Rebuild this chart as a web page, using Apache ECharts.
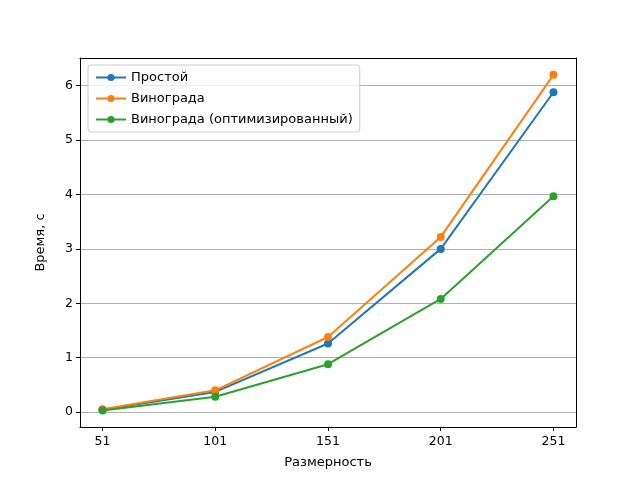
<!DOCTYPE html>
<html><head><meta charset="utf-8">
<script src="https://cdn.jsdelivr.net/npm/echarts@6/dist/echarts.min.js"></script>
<style>html,body{margin:0;padding:0;background:#fff}#c{width:640px;height:480px}</style>
</head><body><div id="c"></div>
<script>
var sizes = [51, 101, 151, 201, 251];
var simple = [0.04, 0.37, 1.26, 3.0, 5.88];
var winograd = [0.05, 0.40, 1.38, 3.22, 6.20];
var winogradOpt = [0.03, 0.28, 0.88, 2.08, 3.97];
var yTicks = [0, 1, 2, 3, 4, 5, 6];
var names = ['Простой', 'Винограда', 'Винограда (оптимизированный)'];
var colors = ['#1f77b4', '#ff7f0e', '#2ca02c'];
function pairs(v){ return sizes.map(function(x,i){return [x, v[i]];}); }
var font = 'DejaVu Sans';
var chart = echarts.init(document.getElementById('c'));
function ser(name, v, c){
  return {name:name, type:'line', data:pairs(v), symbol:'circle', symbolSize:8,
    lineStyle:{width:2, color:c}, itemStyle:{color:c}, z:3};
}
chart.setOption({
  animation:false,
  textStyle:{fontFamily:font},
  grid:{left:80, right:64, top:58, bottom:53},
  legend:{orient:'vertical', left:88, top:65, itemGap:8, itemWidth:30, itemHeight:9,
    data:names, borderColor:'#ccc', borderWidth:1, borderRadius:3, padding:[6,7,6,7],
    backgroundColor:'rgba(255,255,255,0.8)',
    textStyle:{fontSize:13, color:'#000', fontFamily:font}},
  xAxis:[{type:'value', min:41, max:261, name:'Размерность', nameLocation:'middle', nameGap:29,
    nameTextStyle:{fontSize:13, color:'#000'},
    axisLine:{show:true, onZero:false, lineStyle:{color:'#000'}},
    axisTick:{show:true, customValues:sizes, length:4, lineStyle:{color:'#000'}},
    axisLabel:{customValues:sizes, fontSize:12.5, color:'#000', margin:8},
    splitLine:{show:false}},
    {type:'value', min:41, max:261, position:'top', axisLine:{show:true, onZero:false, lineStyle:{color:'#000'}},
     axisTick:{show:false}, axisLabel:{show:false}, splitLine:{show:false}}],
  yAxis:[{type:'value', min:-0.275, max:6.51, name:'Время, с', nameLocation:'middle', nameGap:33,
    nameTextStyle:{fontSize:13, color:'#000'},
    axisLine:{show:true, onZero:false, lineStyle:{color:'#000'}},
    axisTick:{show:true, customValues:yTicks, length:4, lineStyle:{color:'#000'}},
    axisLabel:{customValues:yTicks, fontSize:12.5, color:'#000', margin:7},
    splitLine:{show:true, lineStyle:{color:'#b0b0b0', width:1}}},
    {type:'value', min:-0.275, max:6.51, position:'right', axisLine:{show:true, onZero:false, lineStyle:{color:'#000'}},
     axisTick:{show:false}, axisLabel:{show:false}, splitLine:{show:false}}],
  series:[ser(names[0], simple, colors[0]), ser(names[1], winograd, colors[1]), ser(names[2], winogradOpt, colors[2])]
});
</script></body></html>
